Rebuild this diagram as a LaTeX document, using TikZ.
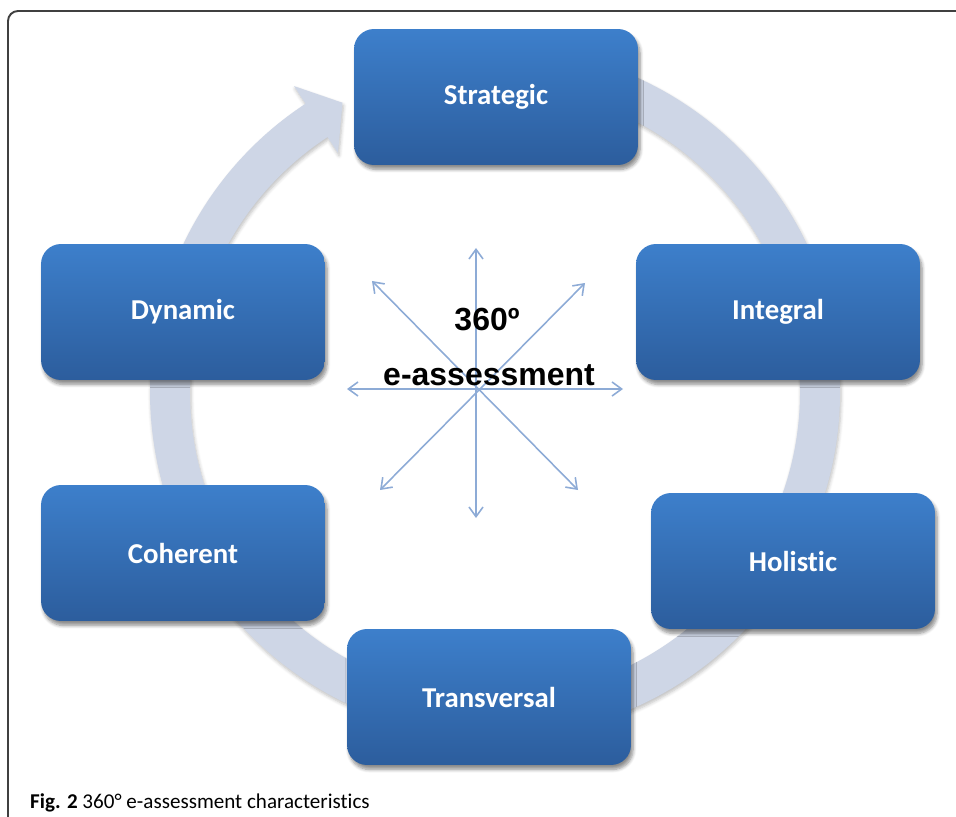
\documentclass[tikz,border=0pt]{standalone}
\usepackage{fontspec}
\setmainfont{Carlito}[Ligatures={NoCommon,NoRequired,NoContextual}]
\newfontfamily\arialbf{Liberation Sans}
\usepackage{tikz}
\usetikzlibrary{arrows.meta,shadows.blur}
\definecolor{boxtop}{RGB}{61,127,203}
\definecolor{boxbot}{RGB}{44,93,157}
\definecolor{ringcol}{RGB}{206,214,230}
\definecolor{starcol}{RGB}{141,171,214}

\begin{document}
\begin{tikzpicture}[x=0.02cm,y=-0.02cm,
	charbox/.style={rounded corners=0.4cm, minimum width=5.68cm, minimum height=2.72cm,
		top color=boxtop, bottom color=boxbot, text=white,
		font=\fontsize{16.4}{19}\selectfont\bfseries,
		blur shadow={shadow xshift=1.2pt, shadow yshift=-2.5pt, shadow blur steps=6, shadow opacity=45}},
	star/.style={starcol, line width=0.9pt,
		{Straight Barb[length=5.5pt,width=8pt]}-{Straight Barb[length=5.5pt,width=8pt]}}]
	\useasboundingbox (0,0) rectangle (956,817);

	%frame
	\draw[black!75, line width=1.1pt, rounded corners=0.2cm] (8,818)--(8,11)--(957,11);

	%cycle ring (tail hidden under Strategic)
	\begin{scope}[shift={(495,392)}]
		\fill[ringcol, blur shadow={shadow xshift=0.6pt, shadow yshift=-1.5pt, shadow blur steps=5, shadow opacity=25}]
			(265:345) arc[start angle=265, end angle=596.7, radius=345]
			-- (596.7:366) -- (602.2:327) -- (596.7:286)				%head
			-- (596.7:305) arc[start angle=596.7, end angle=265, radius=305] -- cycle;
	\end{scope}

	%star of arrows
	\coordinate (n)  at (476,248);
	\coordinate (s)  at (476,518);
	\coordinate (w)  at (347,389);
	\coordinate (e)  at (623,389);
	\coordinate (nw) at (372,281);
	\coordinate (se) at (578,490);
	\coordinate (ne) at (585,283);
	\coordinate (sw) at (380,490);
	\draw[star] (n)--(s);
	\draw[star] (w)--(e);
	\draw[star] (nw)--(se);
	\draw[star] (ne)--(sw);

	%center label
	\node[anchor=base, font=\arialbf\bfseries\fontsize{18.2}{20}\selectfont] (deg) at (487,331) {360º};
	\node[anchor=base, font=\arialbf\bfseries\fontsize{18.2}{20}\selectfont] (eass) at (489,385) {e-assessment};

	%characteristics
	\node[charbox] (strategic)   at (496,97)  {Strategic};
	\node[charbox] (integral)    at (778,312) {Integral};
	\node[charbox] (holistic)    at (793,561) {Holistic};
	\node[charbox] (transversal) at (489,697) {Transversal};
	\node[charbox] (coherent)    at (183,553) {Coherent};
	\node[charbox] (dynamic)     at (183,312) {Dynamic};

	%caption
	\node[anchor=base west, font=\fontsize{12}{14}\selectfont] (caption) at (24,808)
		{\textbf{Fig. 2} 360° e-assessment characteristics};
\end{tikzpicture}
\end{document}
